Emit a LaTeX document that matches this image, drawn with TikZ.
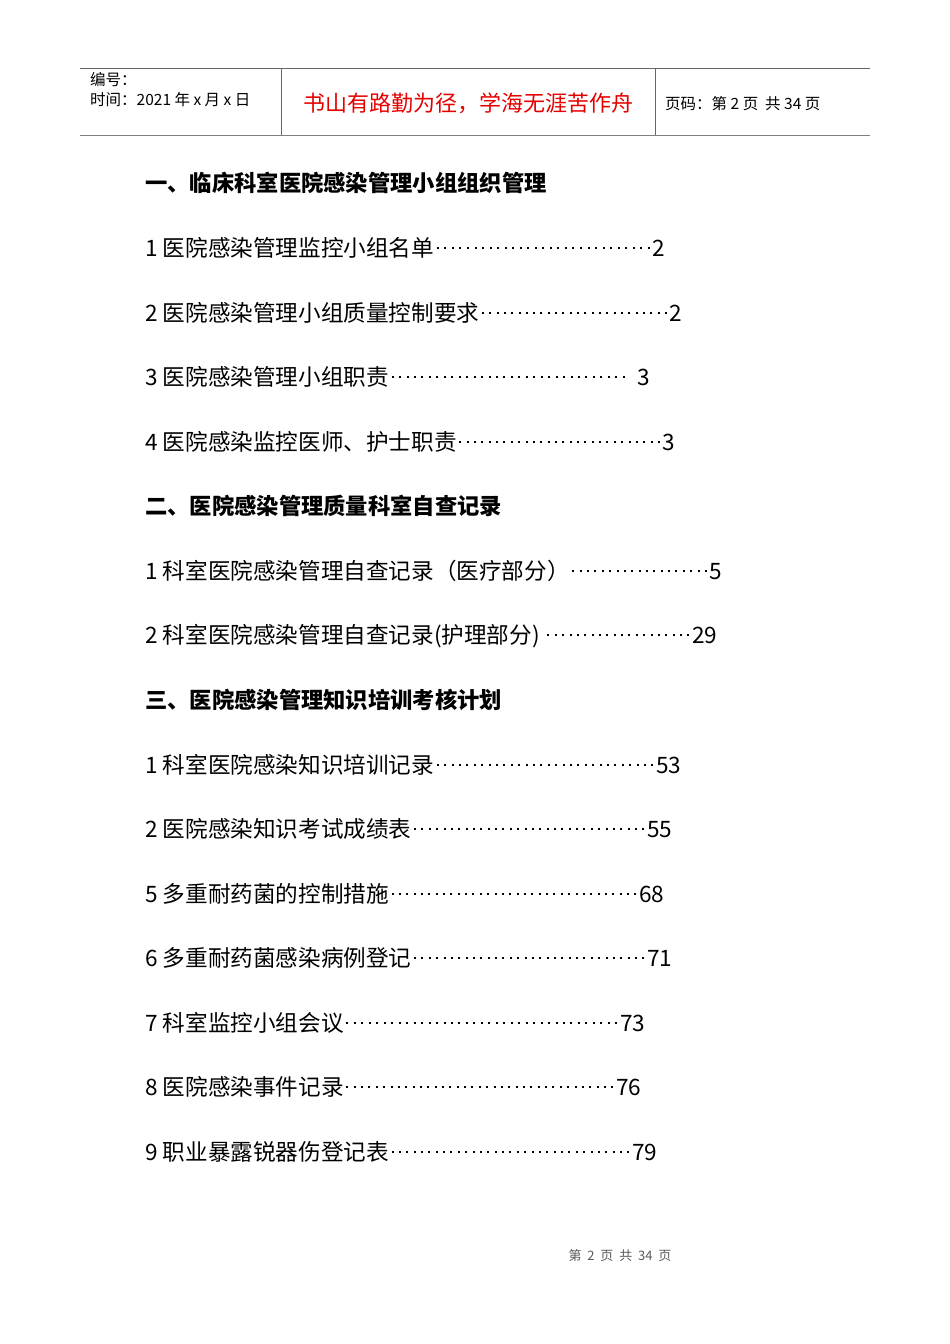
\documentclass[tikz,border=0pt]{standalone}
\usepackage{fontspec}
\setmainfont{Noto Sans CJK SC}
\begin{document}
\begin{tikzpicture}[x=1pt,y=-1pt,
 hdr/.style={font=\fontsize{15.5}{18}\selectfont,anchor=base west,inner sep=0},
 toc/.style={font=\fontsize{22.6}{24}\selectfont,anchor=base west,inner sep=0},
 head/.style={font=\fontsize{22.3}{24}\selectfont\bfseries,anchor=base west,inner sep=0}]
\useasboundingbox (0,0) rectangle (950,1344);
\newcommand\tocline[4]{\node[toc] (#1) at (145,#2) {\hbox to #3pt{#4}};}
\newcommand\lead{\xleaders\hbox to 7.3pt{\hss\raisebox{0.3em}{\rule{2pt}{2pt}}\hss}\hfill}
\draw[gray!80!black,line width=0.8pt] (80,68) -- (870,68);
\draw[gray,line width=1.6pt] (80,135.5) -- (870,135.5);
\draw[gray!80!black,line width=0.8pt] (281,68) -- (281,135) (655,68) -- (655,135);
\node[hdr] (n1) at (90,85) {编号：};
\node[hdr] (n2) at (90,105) {时间：2021 年 x 月 x 日};
\node[font=\fontsize{22}{24}\selectfont,text=red!90!black,inner sep=0] (motto) at (468,103) {书山有路勤为径，学海无涯苦作舟};
\node[hdr] (pg) at (665,109) {页码：第 2 页\ \ 共 34 页};
\node[head] (h1) at (145,191) {一、临床科室医院感染管理小组组织管理};
\tocline{a1}{256}{520}{1 医院感染管理监控小组名单\lead 2}
\tocline{a2}{321}{537}{2 医院感染管理小组质量控制要求\lead 2}
\tocline{a3}{385}{505}{3 医院感染管理小组职责\lead\ \ 3}
\tocline{a4}{450}{530}{4 医院感染监控医师、护士职责\lead 3}
\node[head] (h2) at (145,514) {二、医院感染管理质量科室自查记录};
\tocline{b1}{579}{577}{1 科室医院感染管理自查记录（医疗部分）\lead 5}
\tocline{b2}{643}{572}{2 科室医院感染管理自查记录(护理部分)\ \lead 29}
\node[head] (h3) at (145,708) {三、医院感染管理知识培训考核计划};
\tocline{c1}{773}{536}{1 科室医院感染知识培训记录\lead 53}
\tocline{c2}{837}{527}{2 医院感染知识考试成绩表\lead 55}
\tocline{c3}{902}{519}{5 多重耐药菌的控制措施\lead 68}
\tocline{c4}{966}{527}{6 多重耐药菌感染病例登记\lead 71}
\tocline{c5}{1031}{500}{7 科室监控小组会议\lead 73}
\tocline{c6}{1095}{496}{8 医院感染事件记录\lead 76}
\tocline{c7}{1160}{512}{9 职业暴露锐器伤登记表\lead 79}
\node[font=\fontsize{13}{14}\selectfont,text=gray!70!black] (ft) at (620,1256) {第\ \ 2\ \ 页\ \ 共\ \ 34\ \ 页};
\end{tikzpicture}
\end{document}
